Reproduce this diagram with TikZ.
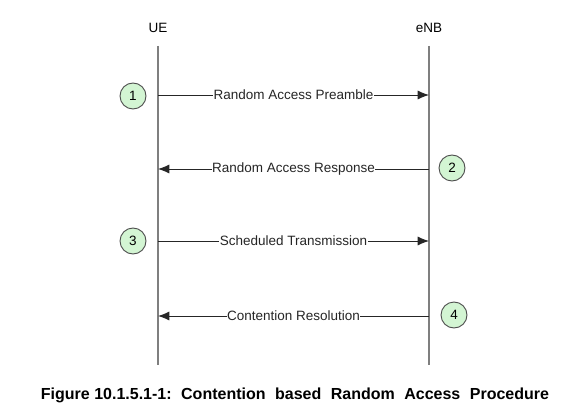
\documentclass[tikz,border=0pt]{standalone}
\usepackage{fontspec}
\setmainfont{Liberation Sans}
\usepackage{tikz}
\usetikzlibrary{arrows.meta,positioning}
\definecolor{Life}{HTML}{7F7F7F}
\definecolor{Ring}{HTML}{4D4D4D}
\definecolor{PaleGreen}{HTML}{D3F5D3}
\newcommand{\capgap}{\hspace{9.5pt}}
\tikzset{
  actor/.style={font=\fontsize{13.5}{16}\selectfont,inner sep=1pt},
  lifeline/.style={draw=Life,line width=1.3pt},
  msg/.style={-{Latex[length=4mm,width=3.2mm]},line width=0.9pt,color=black!85},
  lbl/.style={fill=white,inner sep=0.5pt,font=\fontsize{13.5}{16}\selectfont},
  stepnum/.style={circle,draw=Ring,fill=PaleGreen,line width=0.9pt,minimum size=26pt,
    inner sep=0pt,font=\fontsize{13.5}{16}\selectfont}
}
\begin{document}
\begin{tikzpicture}[x=1pt,y=-1pt]
  \useasboundingbox (0,0) rectangle (573,409);
  \node[actor] (ue) at (158,28) {UE};
  \node[actor] (enb) at (429,28) {eNB};
  \coordinate (ueTop) at (158,46);
  \coordinate (ueBot) at (158,365);
  \coordinate (enbTop) at (429,46);
  \coordinate (enbBot) at (429,365);
  \draw[lifeline] (ueTop) -- (ueBot);
  \draw[lifeline] (enbTop) -- (enbBot);
  % messages
  \coordinate (u1) at (158,95);  \coordinate (e1) at (429,95);
  \coordinate (u2) at (158,169); \coordinate (e2) at (429,169);
  \coordinate (u3) at (158,241); \coordinate (e3) at (429,241);
  \coordinate (u4) at (158,316); \coordinate (e4) at (429,316);
  \draw[msg] (u1) -- node[lbl] {Random Access Preamble} (e1);
  \draw[msg] (e2) -- node[lbl] {Random Access Response} (u2);
  \draw[msg] (u3) -- node[lbl] {Scheduled Transmission} (e3);
  \draw[msg] (e4) -- node[lbl] {Contention Resolution} (u4);
  % step numbers
  \node[stepnum] (s1) at (133,96) {1};
  \node[stepnum] (s2) at (452,168) {2};
  \node[stepnum] (s3) at (133,241) {3};
  \node[stepnum] (s4) at (454,315) {4};
  \node[font=\bfseries\fontsize{16}{19}\selectfont] (cap) at (295,395)
    {Figure 10.1.5.1-1:\capgap Contention\capgap based\capgap Random\capgap Access\capgap Procedure};
\end{tikzpicture}
\end{document}
